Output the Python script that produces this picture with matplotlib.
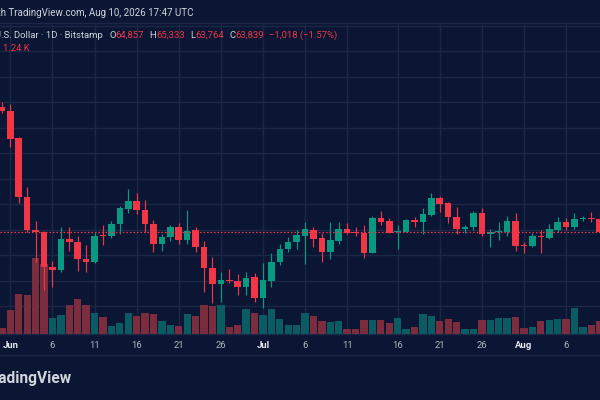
import matplotlib
matplotlib.use("Agg")
import matplotlib.pyplot as plt
from matplotlib.lines import Line2D
import numpy as np

# ---------------- data (May 31 .. Aug 10, daily) ----------------
OPEN = [73590, 73340, 71170, 66590, 64010, 63820, 61070, 60830, 63280, 63050,
        61700, 61440, 63560, 63500, 64420, 65620, 66230, 65540, 64420, 62860,
        63450, 64210, 63190, 63950, 62610, 60970, 59730, 60070, 59990, 59520,
        60260, 58610, 59990, 61480, 62480, 63050, 63520, 63970, 63320, 62220,
        63130, 64050, 63790, 63760, 62190, 64940, 64680, 63790, 63790, 64760,
        64620, 65150, 66460, 66070, 65020, 64030, 64230, 65330, 63660, 63840,
        63790, 64700, 62790, 62720, 63480, 63370, 63970, 64580, 64180, 64860,
        64910, 64857]
HIGH = [74020, 73860, 71250, 67370, 64680, 63890, 61500, 64210, 64230, 63500,
        62820, 63790, 64360, 64700, 65860, 67190, 66880, 66330, 64760, 63660,
        64360, 64520, 65540, 64180, 63130, 61880, 60700, 60890, 60520, 60700,
        60570, 61360, 62140, 62870, 63450, 63970, 64620, 64230, 63710, 64620,
        64620, 64500, 64230, 64360, 65070, 65460, 64890, 64360, 64810, 65020,
        65720, 66850, 66660, 66190, 65750, 64360, 65490, 65680, 64030, 64620,
        65070, 65330, 63050, 63710, 63970, 64440, 64970, 64890, 65330, 65070,
        65360, 65333]
LOW = [73120, 70460, 66070, 63840, 61460, 59260, 59520, 60700, 62360, 60750,
       60700, 61380, 62790, 63360, 63660, 65280, 65230, 63780, 62280, 62320,
       63130, 62910, 62870, 62250, 59130, 58220, 58340, 59790, 58870, 58870,
       58340, 57830, 59520, 61220, 62270, 62460, 61300, 62610, 61480, 61670,
       62870, 63670, 63500, 61750, 62170, 64360, 63710, 62460, 63780, 64180,
       63660, 65110, 65410, 64550, 63660, 63710, 63970, 63520, 62660, 63190,
       63520, 62350, 62190, 62660, 62190, 63240, 63840, 63970, 64030, 64700,
       64620, 63764]
CLOSE = [73350, 71120, 66540, 63970, 63790, 61040, 60830, 63290, 63010, 61670,
         61440, 63520, 63480, 64420, 65680, 66230, 65540, 64420, 62860, 63460,
         64210, 63190, 63930, 62640, 61010, 59730, 60050, 59970, 59520, 60230,
         58610, 60050, 61480, 62480, 63050, 63580, 64030, 63270, 62220, 63190,
         64050, 63710, 63740, 62190, 64940, 64620, 63760, 63870, 64760, 64580,
         65200, 66460, 66010, 64970, 64030, 64230, 65330, 63660, 63840, 63890,
         64700, 62720, 62740, 63500, 63420, 64030, 64580, 64180, 64840, 64910,
         64857, 63839]
VOLUME = [515, 2261, 3816, 3711, 7222, 6600, 1526, 1784, 2709, 3282,
          2709, 1946, 1593, 735, 992, 2003, 1622, 1946, 1879, 1145,
          830, 735, 1851, 1717, 2738, 2671, 2738, 639, 830, 2290,
          1975, 1784, 2356, 1336, 801, 801, 1946, 1622, 1145, 1088,
          1240, 477, 448, 1278, 1307, 1278, 1021, 1469, 477, 611,
          1908, 1660, 1212, 1402, 1116, 420, 477, 1278, 1278, 1498,
          1526, 1565, 544, 611, 1145, 1278, 1431, 1431, 2480, 639,
          801, 1240]
VOLUME_DIR = ("dddddd" "uu" "ddd" "u" "d" "uuu" "ddd" "uu" "d" "u" "ddd" "u"
              "dd" "u" "d" "uuuuuu" "dd" "uu" "ddd" "u" "dd" "uu" "d" "uu"
              "ddd" "uu" "d" "uuu" "dd" "u" "d" "uu" "d" "uu" "dd")
TICK_POS = [1, 6, 11, 16, 21, 26, 31, 36, 41, 47, 52, 57, 62, 67]
TICK_LABELS = ["Jun", "6", "11", "16", "21", "26", "Jul", "6", "11", "16",
               "21", "26", "Aug", "6"]
MONTHS = {"Jun", "Jul", "Aug"}
SYMBOL = "Bitcoin / U.S. Dollar \u00b7 1D \u00b7 Bitstamp"
PUBLISHED = "Published on Bitstamp with TradingView.com, Aug 10, 2026 17:47 UTC"

# ---------------- style ----------------
BG = "#0a1633"
GRID = "#1b2746"
UP = "#089981"
DOWN = "#f23645"
UP_VOL = "#0b5b62"
DOWN_VOL = "#7b2c3d"
TEXT = "#d1d4dc"
FONT = "Roboto"
plt.rcParams["font.family"] = [FONT, "DejaVu Sans"]

W, H = 600, 400
PANE_TOP, PANE_BOT = 22.7, 333.5          # pixel rows of the price pane
PRICE_AT_0, PRICE_PER_PX = 82027, 78.5     # price scale of the pane
VOL_PER_PX = 95.4

fig = plt.figure(figsize=(W / 100, H / 100), dpi=100, facecolor=BG)
rect = [0, 1 - PANE_BOT / H, 1, (PANE_BOT - PANE_TOP) / H]
ax = fig.add_axes(rect)
ax.set_facecolor(BG)
vax = ax.twinx()
cax = ax.twinx()

n = len(OPEN)
x = np.arange(n)
o = np.array(OPEN, float)
h = np.array(HIGH, float)
l = np.array(LOW, float)
c = np.array(CLOSE, float)
v = np.array(VOLUME, float)

xlim = (-0.23, 71.03)
ylim = (PRICE_AT_0 - PRICE_PER_PX * PANE_BOT, PRICE_AT_0 - PRICE_PER_PX * PANE_TOP)
for a in (ax, vax, cax):
    a.set_xlim(*xlim)
ax.set_ylim(*ylim)
cax.set_ylim(*ylim)
vax.set_ylim(0, VOL_PER_PX * (PANE_BOT - PANE_TOP))

# grid
ax.set_yticks(np.arange(56000, 82000, 2000))
ax.set_xticks(TICK_POS)
ax.grid(True, color=GRID, linewidth=1.0)
ax.set_axisbelow(True)
ax.tick_params(axis="y", left=False, right=False, labelleft=False, labelright=False)
ax.tick_params(axis="x", length=0, pad=5.2, labelsize=6.8, labelcolor="#b2b5be")
ax.set_xticklabels(TICK_LABELS)
for t in ax.get_xticklabels():
    if t.get_text() in MONTHS:
        t.set_fontweight("bold")
        t.set_color("#e6e8ee")
for s in ("left", "right"):
    ax.spines[s].set_visible(False)
for s in ("top", "bottom"):
    ax.spines[s].set_color(GRID)
    ax.spines[s].set_linewidth(1.0)
for a in (vax, cax):
    a.set_yticks([])
    for s in a.spines.values():
        s.set_visible(False)
    a.patch.set_visible(False)

# volume
vcol = [UP_VOL if d == "u" else DOWN_VOL for d in VOLUME_DIR]
vax.bar(x, v, width=0.87, color=vcol, linewidth=0)

# candles
up = c >= o
col = np.where(up, UP, DOWN)
cax.vlines(x, l, h, colors=col, linewidth=0.85)
body_low = np.minimum(o, c)
body_h = np.maximum(np.abs(c - o), 85)
cax.bar(x, body_h, bottom=body_low, width=0.78, color=col, linewidth=0)

# last price line
cax.axhline(c[-1], color=DOWN, linewidth=0.9, linestyle=(0, (1.2, 1.6)))

# separator under time axis
fig.add_artist(Line2D([0, 1], [1 - 355 / H] * 2, transform=fig.transFigure,
                      color=GRID, linewidth=1.0))

# ---------------- header texts ----------------
renderer = fig.canvas.get_renderer()
FS = 6.8


def seg(xp, yp, s, color, **kw):
    t = fig.text(xp / W, 1 - yp / H, s, color=color, ha="left", va="center",
                 fontsize=FS, **kw)
    return t.get_window_extent(renderer).x1


fig.text(194 / W, 1 - 12.8 / H, PUBLISHED, color=TEXT, ha="right", va="center",
         fontsize=7.0)
fig.text(103 / W, 1 - 35.3 / H, SYMBOL, color=TEXT, ha="right", va="center",
         fontsize=FS)

chg = c[-1] - c[-2]
pct = chg / c[-2] * 100
xp = 109
for lab, val in (("O", o[-1]), ("H", h[-1]), ("L", l[-1]), ("C", c[-1])):
    xp = seg(xp, 35.3, lab, TEXT)
    xp = seg(xp + 0.4, 35.3, f"{val:,.0f}", DOWN) + 5
seg(xp, 35.3, f"\u2212{abs(chg):,.0f} (\u2212{abs(pct):.2f}%)", DOWN)
seg(3.3, 48.3, f"{v[-1] / 1000:.2f} K", DOWN)

# footer logo text (cut at the left edge)
fig.text(72 / W, 1 - 379 / H, "TradingView", color=TEXT, ha="right", va="center",
         fontsize=11.2, fontweight="bold")

fig.savefig("out.png", dpi=100, facecolor=BG)
